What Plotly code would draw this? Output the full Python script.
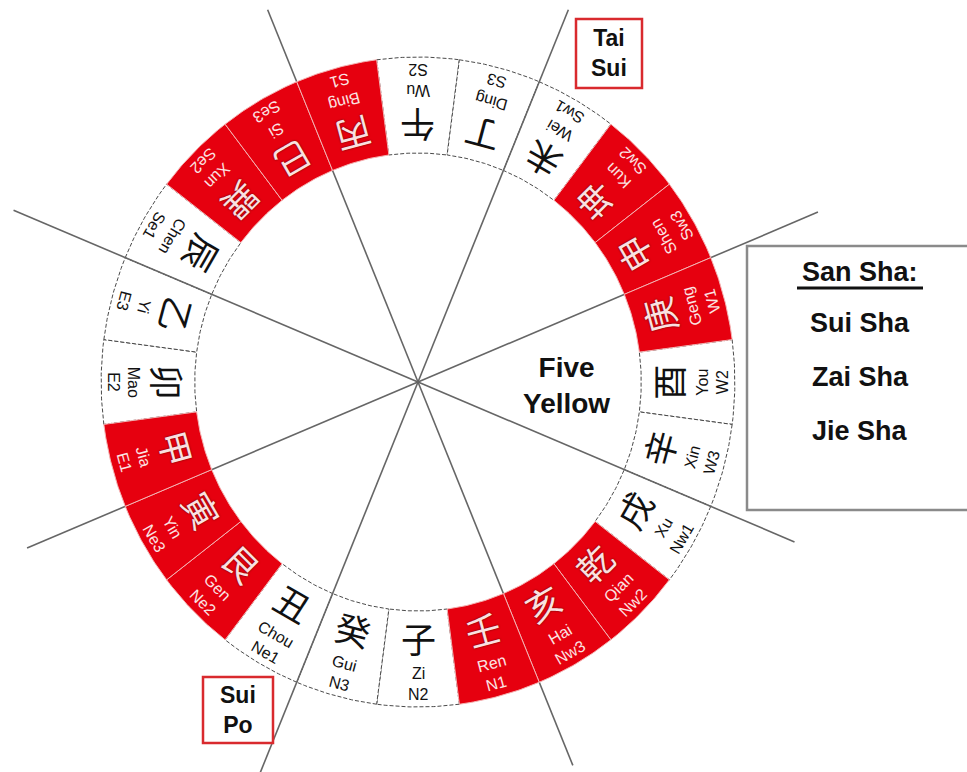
import numpy as np
import plotly.graph_objects as go

# ---------------- data ----------------
names = ["Wu", "Ding", "Wei", "Kun", "Shen", "Geng", "You", "Xin", "Xu", "Qian", "Hai", "Ren",
         "Zi", "Gui", "Chou", "Gen", "Yin", "Jia", "Mao", "Yi", "Chen", "Xun", "Si", "Bing"]
chars = ["午", "丁", "未", "坤", "申", "庚", "酉", "辛", "戌", "乾", "亥", "壬",
         "子", "癸", "丑", "艮", "寅", "甲", "卯", "乙", "辰", "巽", "巳", "丙"]
codes = ["S2", "S3", "Sw1", "Sw2", "Sw3", "W1", "W2", "W3", "Nw1", "Nw2", "Nw3", "N1",
         "N2", "N3", "Ne1", "Ne2", "Ne3", "E1", "E2", "E3", "Se1", "Se2", "Se3", "S1"]
highlighted = [0, 0, 0, 1, 1, 1, 0, 0, 0, 1, 1, 1,
               0, 0, 0, 1, 1, 1, 0, 0, 0, 1, 1, 1]
bearings = [i * 15 for i in range(24)]          # degrees clockwise from top (south up)

divider_bearings = [22.5, 67.5, 112.5, 157.5, 202.5, 247.5, 292.5, 337.5]
divider_lengths = [403, 444, 418, 415, 440, 434, 449, 403]

center_label = ["Five", "Yellow"]
tai_sui_label = ["Tai", "Sui"]
sui_po_label = ["Sui", "Po"]
san_sha_title = "San Sha:"
san_sha_items = ["Sui Sha", "Zai Sha", "Jie Sha"]

# ---------------- geometry ----------------
W, H = 967, 772
CX, CY = 418, 382
SX = 0.975
R_OUT, R_IN = 325, 229
R_CHAR, R_NAME, R_CODE = 255, 291, 312
HALF = 7.5
RED = "#e6000f"
LATIN = "Liberation Sans, Arial, sans-serif"
CJK = "Noto Sans CJK SC, sans-serif"


def pt(b, r):
    t = np.radians(b)
    return CX + SX * r * np.sin(t), CY - r * np.cos(t)


def segment(b):
    a_out = np.linspace(b - HALF, b + HALF, 30)
    a_in = a_out[::-1]
    xo, yo = pt(a_out, R_OUT)
    xi, yi = pt(a_in, R_IN)
    xs = np.concatenate([xo, xi, xo[:1]])
    ys = np.concatenate([yo, yi, yo[:1]])
    return xs, ys


fig = go.Figure()

# white segments (dashed outline)
for b, h in zip(bearings, highlighted):
    if h:
        continue
    xs, ys = segment(b)
    fig.add_trace(go.Scatter(x=xs, y=ys, mode="lines", fill="toself", fillcolor="white",
                             line=dict(color="#4a4a4a", width=1, dash="4px,2px"),
                             hoverinfo="skip", showlegend=False))

# divider lines through the centre
lx, ly = [], []
for b, L in zip(divider_bearings, divider_lengths):
    x1, y1 = pt(b, L)
    lx += [CX, x1, None]
    ly += [CY, y1, None]
fig.add_trace(go.Scatter(x=lx, y=ly, mode="lines", line=dict(color="#666666", width=1.6),
                         hoverinfo="skip", showlegend=False))

# red segments
for b, h in zip(bearings, highlighted):
    if not h:
        continue
    xs, ys = segment(b)
    fig.add_trace(go.Scatter(x=xs, y=ys, mode="lines", fill="toself", fillcolor=RED,
                             line=dict(color="#f4b3b3", width=1),
                             hoverinfo="skip", showlegend=False))

annotations = []
for b, h, c, n, k in zip(bearings, highlighted, chars, names, codes):
    ang = ((180 + b + 180) % 360) - 180
    txt_col = "#fbe3e3" if h else "#111111"
    ch_col = "#fbe0e0" if h else "#111111"
    ch_font = dict(family=CJK, size=35, color=ch_col)
    if h:
        ch_font["shadow"] = "0px 0px 2px #4a0000"
    x, y = pt(b, R_CHAR)
    annotations.append(dict(x=x, y=y, text=c, showarrow=False, textangle=ang,
                            xanchor="center", yanchor="middle", font=ch_font))
    x, y = pt(b, R_NAME)
    annotations.append(dict(x=x, y=y, text=n, showarrow=False, textangle=ang,
                            xanchor="center", yanchor="middle",
                            font=dict(family=LATIN, size=16, color=txt_col)))
    x, y = pt(b, R_CODE)
    annotations.append(dict(x=x, y=y, text=k, showarrow=False, textangle=ang,
                            xanchor="center", yanchor="middle",
                            font=dict(family=LATIN, size=16, color=txt_col)))

# centre label
annotations.append(dict(x=566, y=385, text="<br>".join(center_label), showarrow=False,
                        xanchor="center", yanchor="middle",
                        font=dict(family=LATIN, size=28, color="#111111", weight="bold")))
# Tai Sui / Sui Po
annotations.append(dict(x=609, y=53, text="<br>".join(tai_sui_label), showarrow=False,
                        xanchor="center", yanchor="middle",
                        font=dict(family=LATIN, size=23, color="#111111", weight="bold")))
annotations.append(dict(x=238, y=710, text="<br>".join(sui_po_label), showarrow=False,
                        xanchor="center", yanchor="middle",
                        font=dict(family=LATIN, size=23, color="#111111", weight="bold")))
# San Sha box
annotations.append(dict(x=860, y=272, text=san_sha_title, showarrow=False,
                        xanchor="center", yanchor="middle",
                        font=dict(family=LATIN, size=27, color="#111111", weight="bold")))
for i, s in enumerate(san_sha_items):
    annotations.append(dict(x=860, y=323 + i * 54, text=s, showarrow=False,
                            xanchor="center", yanchor="middle",
                            font=dict(family=LATIN, size=27, color="#111111", weight="bold")))

shapes = [
    dict(type="rect", x0=576, y0=19, x1=642, y1=88, line=dict(color="#d92a2e", width=2.5),
         fillcolor="rgba(0,0,0,0)"),
    dict(type="rect", x0=203, y0=677, x1=273, y1=743, line=dict(color="#d92a2e", width=2.5),
         fillcolor="rgba(0,0,0,0)"),
    dict(type="rect", x0=747, y0=246, x1=970, y1=510, line=dict(color="#8a8a8a", width=2.5),
         fillcolor="rgba(0,0,0,0)"),
    dict(type="line", x0=797, y0=288, x1=923, y1=288, line=dict(color="#111111", width=3)),
]

fig.update_layout(
    width=W, height=H, margin=dict(l=0, r=0, t=0, b=0),
    paper_bgcolor="white", plot_bgcolor="white",
    xaxis=dict(range=[0, W], visible=False, showgrid=False, zeroline=False, fixedrange=True),
    yaxis=dict(range=[H, 0], visible=False, showgrid=False, zeroline=False, fixedrange=True),
    annotations=annotations, shapes=shapes, showlegend=False,
)

fig.write_html("out.html", config={"displayModeBar": False},
               post_script="document.body.style.margin='0px';")
